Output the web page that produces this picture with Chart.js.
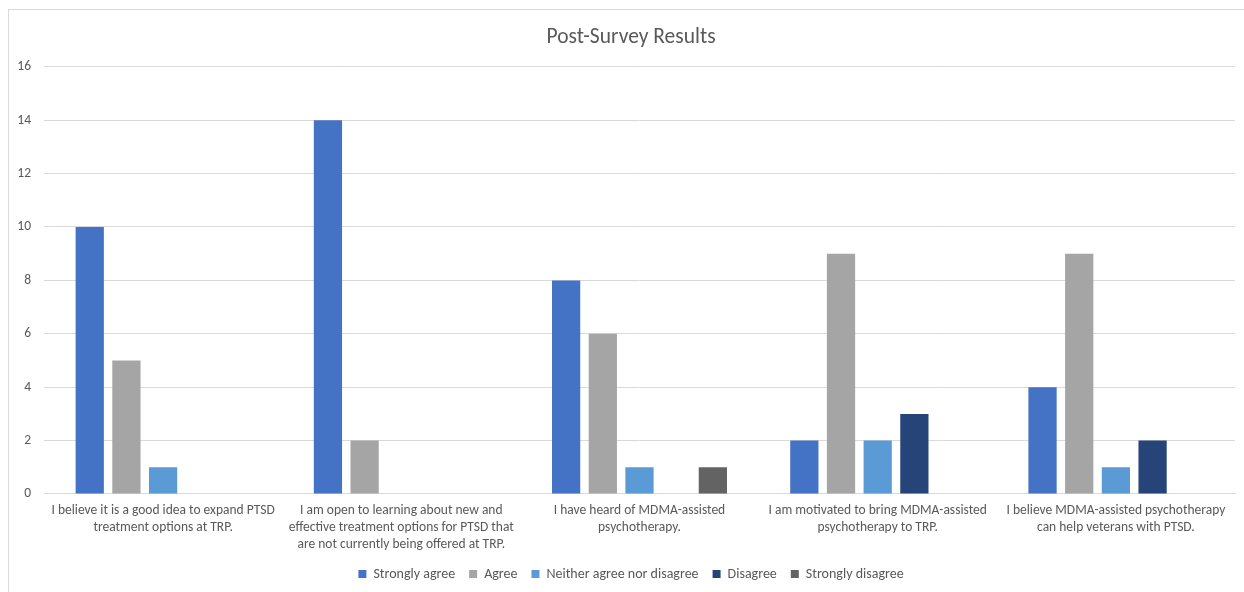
<!DOCTYPE html>
<html>
<head>
<meta charset="utf-8">
<script src="https://cdn.jsdelivr.net/npm/chart.js@4"></script>
<style>
  body { margin: 0; background: #fff; overflow: hidden; }
  #box {
    position: absolute; left: 8px; top: 9px;
    width: 1260px; height: 590px;
    border: 1px solid #d9d9d9; box-sizing: border-box;
  }
  #chart-wrap { position: absolute; left: 0; top: 0; width: 1245px; height: 583px; }
</style>
</head>
<body>
<div id="box"><div id="chart-wrap"><canvas id="chart"></canvas></div></div>
<script>
// Survey statements (x categories)
const categories = [
    ['I believe it is a good idea to expand PTSD', 'treatment options at TRP.'],
    ['I am open to learning about new and', 'effective treatment options for PTSD that', 'are not currently being offered at TRP.'],
    ['I have heard of MDMA-assisted', 'psychotherapy.'],
    ['I am motivated to bring MDMA-assisted', 'psychotherapy to TRP.'],
    ['I believe MDMA-assisted psychotherapy', 'can help veterans with PTSD.']
];

// Response counts per answer
const stronglyAgree = [10, 14, 8, 2, 4];
const agree = [5, 2, 6, 9, 9];
const neither = [1, 0, 1, 2, 1];
const disagree = [0, 0, 0, 3, 2];
const stronglyDisagree = [0, 0, 1, 0, 0];

const yTicks = [0, 2, 4, 6, 8, 10, 12, 14, 16];

const fontFamily = "Carlito, Lato, sans-serif";
const textColor = '#595959';

function makeSet(label, data, color) {
    return {
        label: label,
        data: data,
        backgroundColor: color,
        borderWidth: 0,
        categoryPercentage: 0.77,
        barPercentage: 0.77
    };
}

// Draw the y tick labels ourselves so the axis box can stay narrow
const yLabels = {
    id: 'yLabels',
    afterDraw(chart) {
        const y = chart.scales.y;
        const c = chart.ctx;
        c.save();
        c.fillStyle = textColor;
        c.font = '13.5px ' + fontFamily;
        c.textAlign = 'right';
        c.textBaseline = 'middle';
        yTicks.forEach(v => {
            c.fillText(String(v), chart.chartArea.left - 13, y.getPixelForValue(v));
        });
        c.restore();
    }
};

const ctx = document.getElementById('chart').getContext('2d');
new Chart(ctx, {
    type: 'bar',
    data: {
        labels: categories,
        datasets: [
            makeSet('Strongly agree', stronglyAgree, '#4472c4'),
            makeSet('Agree', agree, '#a5a5a5'),
            makeSet('Neither agree nor disagree', neither, '#5b9bd5'),
            makeSet('Disagree', disagree, '#264478'),
            makeSet('Strongly disagree', stronglyDisagree, '#636363')
        ]
    },
    plugins: [yLabels],
    options: {
        responsive: true,
        maintainAspectRatio: false,
        animation: false,
        layout: { padding: { left: 18, right: 19, top: 9, bottom: 2 } },
        scales: {
            x: {
                grid: { display: false },
                border: { display: true, color: '#d9d9d9' },
                ticks: {
                    color: textColor,
                    font: { family: fontFamily, size: 13.5, lineHeight: 1.26 },
                    maxRotation: 0,
                    autoSkip: false,
                    padding: 0
                }
            },
            y: {
                min: 0,
                max: 16,
                afterBuildTicks: function(axis) {
                    axis.ticks = yTicks.map(v => ({ value: v }));
                },
                afterFit: function(axis) {
                    axis.width = 17;
                },
                grid: { color: '#d9d9d9', drawTicks: false },
                border: { display: false },
                ticks: { display: false }
            }
        },
        plugins: {
            title: {
                display: true,
                text: 'Post-Survey Results',
                color: textColor,
                font: { family: fontFamily, size: 21.5, weight: 'normal' },
                padding: { top: 6, bottom: 16 }
            },
            legend: {
                position: 'bottom',
                labels: {
                    color: textColor,
                    font: { family: fontFamily, size: 14 },
                    usePointStyle: true,
                    pointStyle: 'rect',
                    boxWidth: 8,
                    boxHeight: 8,
                    padding: 14
                }
            },
            tooltip: { enabled: false }
        }
    }
});
</script>
</body>
</html>
